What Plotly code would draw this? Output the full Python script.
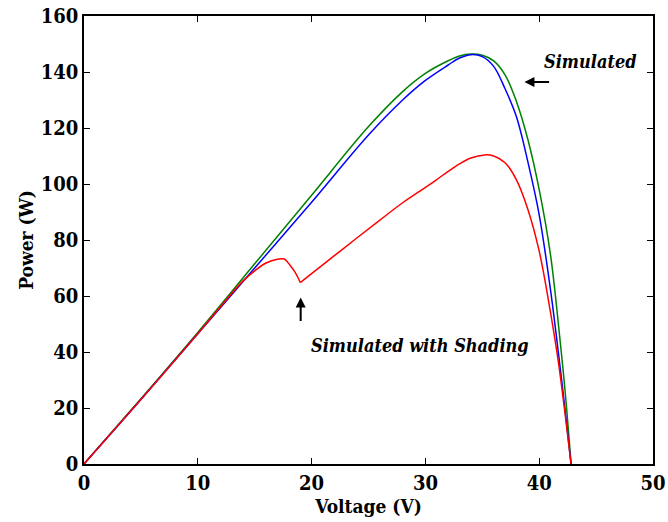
import plotly.graph_objects as go

# P-V curves of the PV module (voltage in V, power in W)
v_green = [0, 5, 10, 15, 20, 25, 28, 30, 32, 33, 34, 35, 36, 37, 38, 39, 40, 41, 41.8, 42.3, 42.8]
p_green = [0, 23.3, 47, 71.5, 96, 120.5, 133, 139.5, 144, 145.7, 146.4, 146, 144, 139, 129.5, 116, 98, 74.5, 45.5, 25, 0]

v_blue = [0, 5, 10, 15, 20, 25, 28, 30, 32, 33, 34, 35, 36, 37, 38, 39, 40, 41, 41.5, 42.2, 42.8]
p_blue = [0, 23, 46.5, 70, 93.5, 117.5, 130, 137, 142.5, 145, 146.2, 145.5, 142, 134, 124, 108, 89, 62, 46, 22, 0]

v_red = [0, 5, 10, 13, 14, 15, 16, 17, 17.6, 18.1, 18.5, 18.8, 19, 20, 22, 24, 26, 28, 30, 31, 32, 33, 34,
         35.2, 36, 37, 38, 39, 40, 41, 41.7, 42.8]
p_red = [0, 23, 46.5, 61, 65.5, 69, 71.8, 73.1, 73.2, 71, 68.8, 66.6, 64.8, 68, 74.4, 80.8, 87.1, 93.3,
         98.8, 101.6, 104.5, 107.2, 109.3, 110.4, 110, 107.6, 101.5, 91, 76, 54, 36, 0]

# index of the shading dip, where the red curve has a sharp corner
dip = v_red.index(19)

x_ticks = [0, 10, 20, 30, 40, 50]
y_ticks = [0, 20, 40, 60, 80, 100, 120, 140, 160]

serif = "DejaVu Serif Condensed, DejaVu Serif"


def curve(x, y, color):
    return go.Scatter(x=x, y=y, mode="lines",
                      line=dict(color=color, width=1.5, shape="spline", smoothing=1.0))


fig = go.Figure()
fig.add_trace(curve(v_green, p_green, "#008000"))
fig.add_trace(curve(v_blue, p_blue, "#0000ff"))
fig.add_trace(curve(v_red[:dip + 1], p_red[:dip + 1], "#ff0000"))
fig.add_trace(curve(v_red[dip:], p_red[dip:], "#ff0000"))

axis_common = dict(
    showgrid=False, zeroline=False, showline=True, linecolor="black", linewidth=1.5,
    mirror="ticks", ticks="inside", ticklen=6, tickwidth=1.3, tickcolor="black",
    tickfont=dict(family=serif, size=20, color="black"),
    automargin=False,
)

fig.update_xaxes(range=[0, 50], tickvals=x_ticks, ticktext=[f"<b>{t}</b>" for t in x_ticks],
                 title=dict(text="<b>Voltage (V)</b>", font=dict(family=serif, size=19, color="black"), standoff=3),
                 **axis_common)
fig.update_yaxes(range=[0, 160], tickvals=y_ticks, ticktext=[f"<b>{t}</b>" for t in y_ticks],
                 title=dict(text="<b>Power (W)</b>", font=dict(family=serif, size=19, color="black"), standoff=2),
                 **axis_common)

label_font = dict(family=serif, size=18, color="black")
fig.add_annotation(x=44.55, y=143.6, text="<b><i>Simulated</i></b>", showarrow=False, font=label_font)
fig.add_annotation(x=38.7, y=136.4, ax=41.0, ay=136.4, axref="x", ayref="y", text="",
                   showarrow=True, arrowhead=2, arrowsize=1, arrowwidth=2, arrowcolor="black", standoff=0)
fig.add_annotation(x=29.5, y=42.5, text="<b><i>Simulated with Shading</i></b>", showarrow=False, font=label_font)
fig.add_annotation(x=19.04, y=59.5, ax=19.04, ay=50.5, axref="x", ayref="y", text="",
                   showarrow=True, arrowhead=2, arrowsize=1, arrowwidth=2, arrowcolor="black", standoff=0)

fig.update_layout(
    width=668, height=522, showlegend=False,
    paper_bgcolor="white", plot_bgcolor="white",
    margin=dict(l=84, r=15, t=16, b=58),
)

fig.write_html("out.html")
